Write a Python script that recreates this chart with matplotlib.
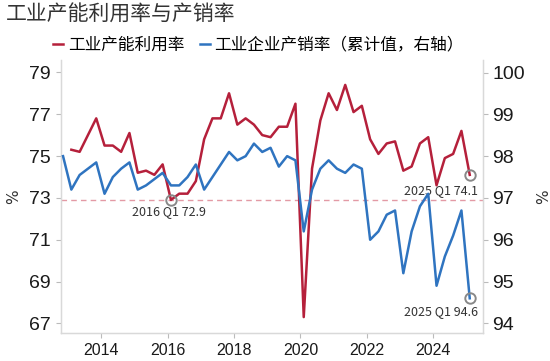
"""工业产能利用率与产销率 -- quarterly capacity utilisation (left) vs cumulative sales ratio (right)."""
import matplotlib; matplotlib.use("Agg")
import matplotlib.pyplot as plt

CJK = ["Noto Sans CJK SC", "DejaVu Sans"]
NUM = ["Liberation Sans", "DejaVu Sans"]
RED, BLUE, GREY = "#B5203B", "#2F74C0", "#888888"

# ---- data -------------------------------------------------------------------------------
UTIL_START = (2013, 1)           # 工业产能利用率, quarterly, %
UTIL = [75.3, 75.2, 76.0, 76.8,  75.5, 75.5, 75.2, 76.1,  74.2, 74.3, 74.1, 74.6,
        72.9, 73.2, 73.2, 73.8,  75.8, 76.8, 76.8, 78.0,  76.5, 76.8, 76.5, 76.0,
        75.9, 76.4, 76.4, 77.5,  67.3, 74.4, 76.7, 78.0,  77.2, 78.4, 77.1, 77.4,
        75.8, 75.1, 75.6, 75.7,  74.3, 74.5, 75.6, 75.9,  73.6, 74.9, 75.1, 76.2,
        74.1]
SALES_START = (2012, 4)          # 工业企业产销率 (累计值), quarterly, %
SALES = [98.0,
         97.2, 97.55, 97.7, 97.85,  97.1, 97.5, 97.7, 97.85,  97.2, 97.3, 97.45, 97.6,
         97.3, 97.3, 97.5, 97.8,    97.2, 97.5, 97.8, 98.1,   97.9, 98.0, 98.3, 98.1,
         98.2, 97.75, 98.0, 97.9,   96.2, 97.2, 97.7, 97.9,   97.7, 97.6, 97.8, 97.7,
         96.0, 96.2, 96.6, 96.7,    95.2, 96.2, 96.8, 97.1,   94.9, 95.6, 96.1, 96.7,
         94.6]
REF_LEVEL = 72.9                 # 2016 Q1 low, dashed reference line
YEAR_TICKS = [2014, 2016, 2018, 2020, 2022, 2024]
LEFT_TICKS = [67, 69, 71, 73, 75, 77, 79]
RIGHT_TICKS = [94, 95, 96, 97, 98, 99, 100]


def qx(start, n):
    y0, q0 = start
    return [y0 + (q0 - 1 + i) / 4 + 0.1 for i in range(n)]


ux = qx(UTIL_START, len(UTIL)); sx = qx(SALES_START, len(SALES))

fig = plt.figure(figsize=(5.5, 3.61), dpi=100)
ax = fig.add_axes([0.1104, 0.0776, 0.7672, 0.7562])
ax2 = ax.twinx()

l1, = ax.plot(ux, UTIL, color=RED, lw=1.8, label="工业产能利用率", zorder=3)
l2, = ax2.plot(sx, SALES, color=BLUE, lw=1.8, label="工业企业产销率（累计值，右轴）", zorder=3)
ax.axhline(REF_LEVEL, color="#E39AA5", ls=(0, (4, 3)), lw=1.0, zorder=1)

ax.set_xlim(2012.78, 2025.49)
ax.set_ylim(66.54, 79.59); ax2.set_ylim(93.77, 100.30)
ax.set_xticks(YEAR_TICKS); ax.set_yticks(LEFT_TICKS); ax2.set_yticks(RIGHT_TICKS)
for a in (ax, ax2):
    a.tick_params(colors="#BBBBBB", labelcolor="#1A1A1A", length=3.5, width=0.8)
    for s in a.spines.values(): s.set_color("#D9D9D9"); s.set_linewidth(0.9)
    a.spines["top"].set_visible(False)
for t in ax.get_yticklabels() + ax2.get_yticklabels():
    t.set_fontfamily(NUM); t.set_fontsize(14)
for t in ax.get_xticklabels():
    t.set_fontfamily(NUM); t.set_fontsize(11.5)
ax.set_ylabel("%", fontsize=11, color="#333333", labelpad=6)
ax2.set_ylabel("%", fontsize=11, color="#333333", labelpad=8, rotation=90)
ax2.set_zorder(ax.get_zorder() + 1); ax2.patch.set_visible(False)

# ---- highlighted points -------------------------------------------------------------------
def mark(a, x, y, txt, dx, dy):
    a.plot([x], [y], "o", ms=7.5, mfc="none", mec=GREY, mew=1.4, zorder=4)
    a.annotate(txt, (x, y), xytext=(dx, dy), textcoords="offset pixels", ha="center",
               va="center", fontsize=9, color="#333333", family=CJK)

mark(ax, ux[12], UTIL[12], "2016 Q1 72.9", -2, -12)
mark(ax, ux[-1], UTIL[-1], "2025 Q1 74.1", -29, -16)
mark(ax2, sx[-1], SALES[-1], "2025 Q1 94.6", -29, -13)

fig.text(0.01, 0.958, "工业产能利用率与产销率", fontsize=15, color="#333333", family=CJK,
         va="center", ha="left")
fig.legend(handles=[l1, l2], loc="center", bbox_to_anchor=(0.47, 0.875), ncol=2,
           frameon=False, handlelength=0.6, handletextpad=0.3, columnspacing=0.9,
           prop={"family": CJK, "size": 12})

fig.savefig("out.png", dpi=100)
